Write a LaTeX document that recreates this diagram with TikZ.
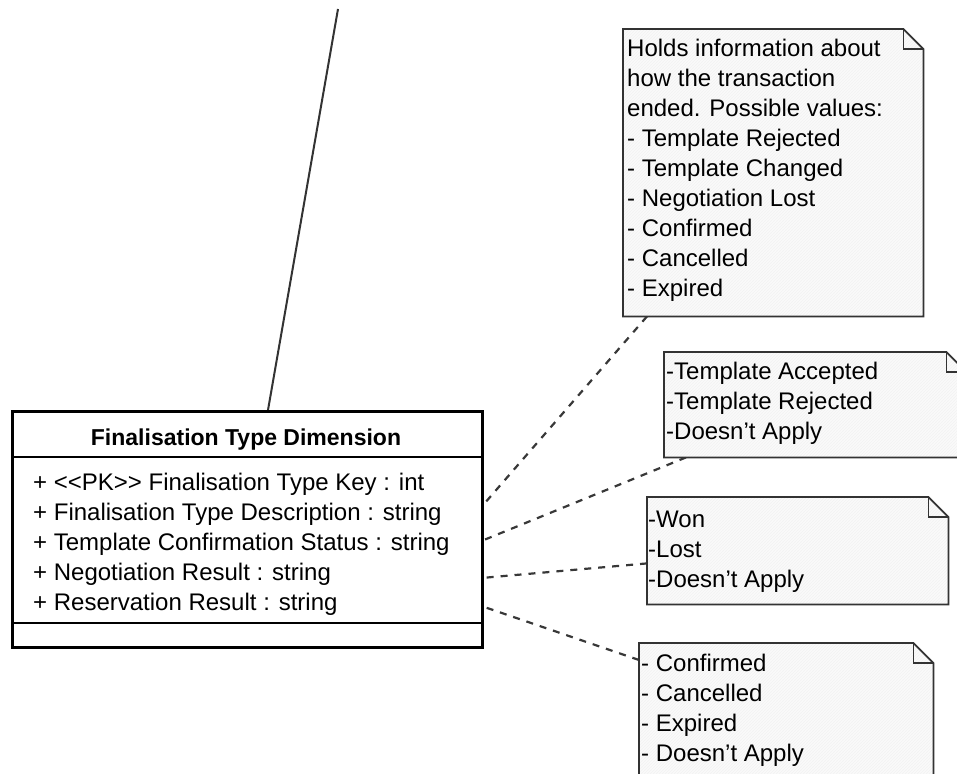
\documentclass[tikz,border=0pt]{standalone}
\usepackage{fontspec}
\setmainfont{Liberation Sans}
\usetikzlibrary{calc,patterns}

\newcommand{\apos}{{\char"0027}}

\tikzset{
  assocline/.style={draw=black!80, line width=2pt},
  notelink/.style={draw=black!78, line width=2.2pt, dash pattern=on 7pt off 7pt},
  classframe/.style={draw=black, line width=3.4pt, fill=white, inner sep=0pt, anchor=north west},
  divider/.style={draw=black, line width=2.2pt},
  notearea/.style={inner sep=0pt, anchor=north west},
  noteoutline/.style={draw=black!80, line width=1.8pt, line join=miter},
  notehatch/.style={fill=black!2, postaction={pattern=north east lines, pattern color=black!5}},
  txt/.style={inner sep=0pt, anchor=north west, align=left, font=\fontsize{24}{30}\selectfont},
  titletxt/.style={inner sep=0pt, anchor=base, font=\fontsize{23}{30}\selectfont\bfseries},
}

% outline of a note with a folded top-right corner
\newcommand{\notesheet}[1]{%
  \path[notehatch] (#1.north west) -- ($(#1.north east)+(-20,0)$) -- ($(#1.north east)+(0,20)$)
    -- (#1.south east) -- (#1.south west) -- cycle;
  \draw[noteoutline] (#1.north west) -- ($(#1.north east)+(-20,0)$) -- ($(#1.north east)+(0,20)$)
    -- (#1.south east) -- (#1.south west) -- cycle;
  \draw[noteoutline] ($(#1.north east)+(-20,0)$) |- ($(#1.north east)+(0,20)$);
}

\begin{document}
\begin{tikzpicture}[x=1pt, y=-1pt]
  \useasboundingbox (0,0) rectangle (957,773);
  \clip (0,0) rectangle (957,773);

  % class and note areas
  \node[notearea, minimum width=470pt, minimum height=236pt] (cls) at (11,410) {};
  \node[notearea, minimum width=300pt, minimum height=287pt] (n1) at (623,29) {};
  \node[notearea, minimum width=302pt, minimum height=105pt] (n2) at (664,352) {};
  \node[notearea, minimum width=301pt, minimum height=107pt] (n3) at (647,497) {};
  \node[notearea, minimum width=294pt, minimum height=150pt] (n4) at (639,643) {};

  % association line leaving the class upwards
  \coordinate (upper) at (338,9);
  \draw[assocline] (upper) -- ($(cls.north west)+(257,0)$);

  % note attachments
  \draw[notelink] ($(n1.south west)+(24,0)$) -- ($(cls.north east)+(0,97)$);
  \draw[notelink] ($(n2.south west)+(22,0)$) -- ($(cls.north east)+(0,131)$);
  \draw[notelink] ($(n3.south west)+(0,-41)$) -- ($(cls.north east)+(0,168)$);
  \draw[notelink] ($(n4.north west)+(0,17)$) -- ($(cls.north east)+(0,196)$);

  % class box
  \node[classframe, minimum width=470pt, minimum height=236pt] (clsbox) at (11,410) {};
  \draw[divider] ($(cls.north west)+(0,47)$) -- ($(cls.north east)+(0,47)$);
  \draw[divider] ($(cls.north west)+(0,213)$) -- ($(cls.north east)+(0,213)$);
  \node[titletxt] (title) at (246,445) {Finalisation Type Dimension};
  \node[txt] (attrs) at (33,469) {\strut+ <{}<PK>{}> Finalisation Type Key : int\\
    + Finalisation Type Description : string\\
    + Template Confirmation Status : string\\
    + Negotiation Result : string\\
    + Reservation Result : string};

  % notes
  \notesheet{n1}
  \notesheet{n2}
  \notesheet{n3}
  \notesheet{n4}

  \node[txt] (t1) at (627,35) {\strut Holds information about\\
    how the transaction\\
    ended. Possible values:\\
    - Template Rejected\\
    - Template Changed\\
    - Negotiation Lost\\
    - Confirmed\\
    - Cancelled\\
    - Expired};
  \node[txt] (t2) at (666,358) {\strut -Template Accepted\\
    -Template Rejected\\
    -Doesn\apos t Apply};
  \node[txt] (t3) at (648,506) {\strut -Won\\
    -Lost\\
    -Doesn\apos t Apply};
  \node[txt] (t4) at (641,650) {\strut - Confirmed\\
    - Cancelled\\
    - Expired\\
    - Doesn\apos t Apply};
\end{tikzpicture}
\end{document}
